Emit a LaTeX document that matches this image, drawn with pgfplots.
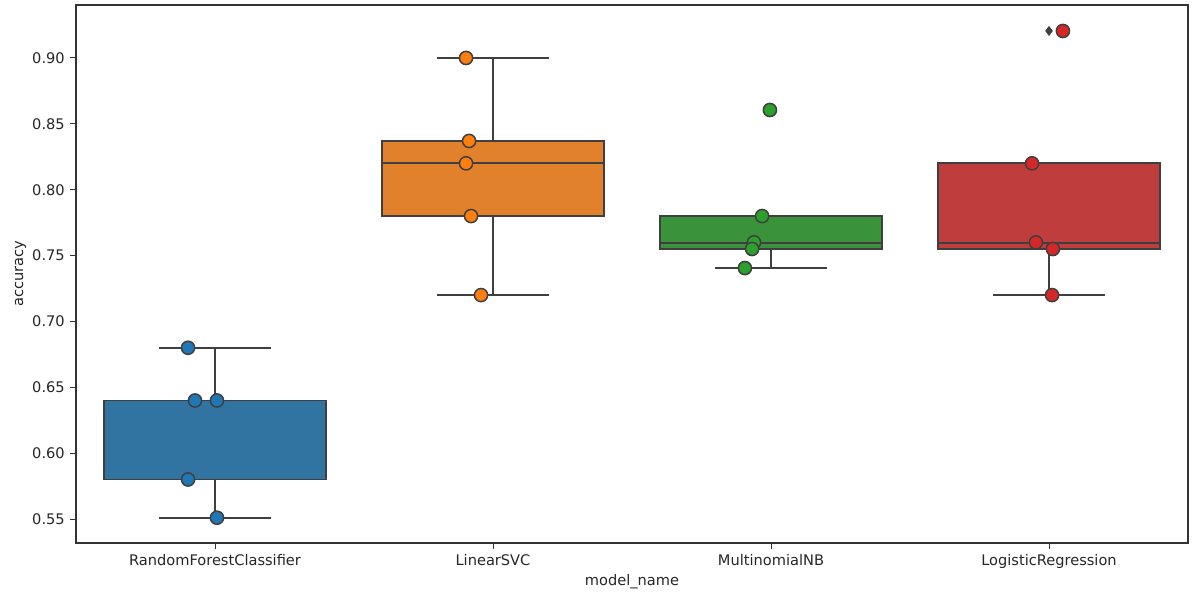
\documentclass[border=0pt]{standalone}
\usepackage{fontspec}
\setmainfont{DejaVu Sans}
\usepackage{pgfplots}
\pgfplotsset{compat=1.18}
\usepgfplotslibrary{statistics}
\definecolor{bA}{HTML}{3274A1}
\definecolor{bB}{HTML}{E1812C}
\definecolor{bC}{HTML}{3A923A}
\definecolor{bD}{HTML}{C03D3E}
\definecolor{pA}{HTML}{1F77B4}
\definecolor{pB}{HTML}{FF7F0E}
\definecolor{pC}{HTML}{2CA02C}
\definecolor{pD}{HTML}{D62728}
\definecolor{edge}{HTML}{3F3F3F}
\begin{document}
\fontsize{7.3pt}{8.7pt}\selectfont
\begin{tikzpicture}
\path[use as bounding box] (-38pt,-26pt) rectangle (560.5pt,271.5pt);
\begin{axis}[
  at={(0,0)}, anchor=south west,
  scale only axis, width=556pt, height=269pt,
  xmin=-0.5, xmax=3.5, ymin=0.5318, ymax=0.9402,
  boxplot/draw direction=y,
  boxplot/every box/.style={draw=edge, line width=0.9pt},
  boxplot/every median/.style={draw=edge, line width=0.9pt},
  boxplot/every whisker/.style={draw=edge, line width=0.9pt},
  xtick={0,1,2,3},
  xticklabels={RandomForestClassifier,LinearSVC,MultinomialNB,LogisticRegression},
  ytick={0.55,0.60,0.65,0.70,0.75,0.80,0.85,0.90},
  yticklabel style={/pgf/number format/.cd,fixed,fixed zerofill,precision=2},
  /pgf/number format/assume math mode=true,
  ticklabel style={font=\fontsize{7.3pt}{8.7pt}\selectfont, text=black!85},
  tick align=outside, tick pos=left,
  major tick length=3pt,
  every tick/.style={black!80, line width=0.5pt},
  axis line style={black!80, line width=0.6pt},
  xlabel={model\_name}, ylabel={accuracy},
  label style={font=\fontsize{7.3pt}{8.7pt}\selectfont, text=black!85},
  xlabel style={yshift=2pt},
  ylabel style={yshift=-2pt},
  clip=false,
]
% boxes
\addplot[boxplot prepared={lower whisker=0.551, lower quartile=0.58, median=0.64, upper quartile=0.64, upper whisker=0.68, draw position=0, box extend=0.8, whisker extend=0.4}, fill=bA, draw=edge, line width=0.9pt] coordinates {};
\addplot[boxplot prepared={lower whisker=0.72, lower quartile=0.78, median=0.8203, upper quartile=0.837, upper whisker=0.90, draw position=1, box extend=0.8, whisker extend=0.4}, fill=bB, draw=edge, line width=0.9pt] coordinates {};
\addplot[boxplot prepared={lower whisker=0.7405, lower quartile=0.755, median=0.7595, upper quartile=0.78, upper whisker=0.78, draw position=2, box extend=0.8, whisker extend=0.4}, fill=bC, draw=edge, line width=0.9pt] coordinates {};
\addplot[boxplot prepared={lower whisker=0.72, lower quartile=0.755, median=0.7595, upper quartile=0.82, upper whisker=0.82, draw position=3, box extend=0.8, whisker extend=0.4}, fill=bD, draw=edge, line width=0.9pt] coordinates {};
% fliers
\addplot[only marks, mark=diamond*, mark size=2.2pt, color=edge] coordinates {(2,0.8605) (3,0.9205)};
% strip points
\addplot[only marks, mark=*, mark size=3.3pt, mark options={fill=pA, draw=edge, line width=0.75pt}] coordinates {
(-0.097,0.68) (-0.072,0.64) (0.007,0.64) (-0.097,0.58) (0.007,0.551)};
\addplot[only marks, mark=*, mark size=3.3pt, mark options={fill=pB, draw=edge, line width=0.75pt}] coordinates {
(0.903,0.90) (0.914,0.837) (0.903,0.82) (0.921,0.78) (0.957,0.72)};
\addplot[only marks, mark=*, mark size=3.3pt, mark options={fill=pC, draw=edge, line width=0.75pt}] coordinates {
(1.996,0.8605) (1.968,0.78) (1.939,0.76) (1.932,0.755) (1.906,0.7405)};
\addplot[only marks, mark=*, mark size=3.3pt, mark options={fill=pD, draw=edge, line width=0.75pt}] coordinates {
(2.939,0.82) (2.953,0.76) (3.014,0.755) (3.011,0.72) (3.050,0.9205)};
\end{axis}
\end{tikzpicture}
\end{document}
